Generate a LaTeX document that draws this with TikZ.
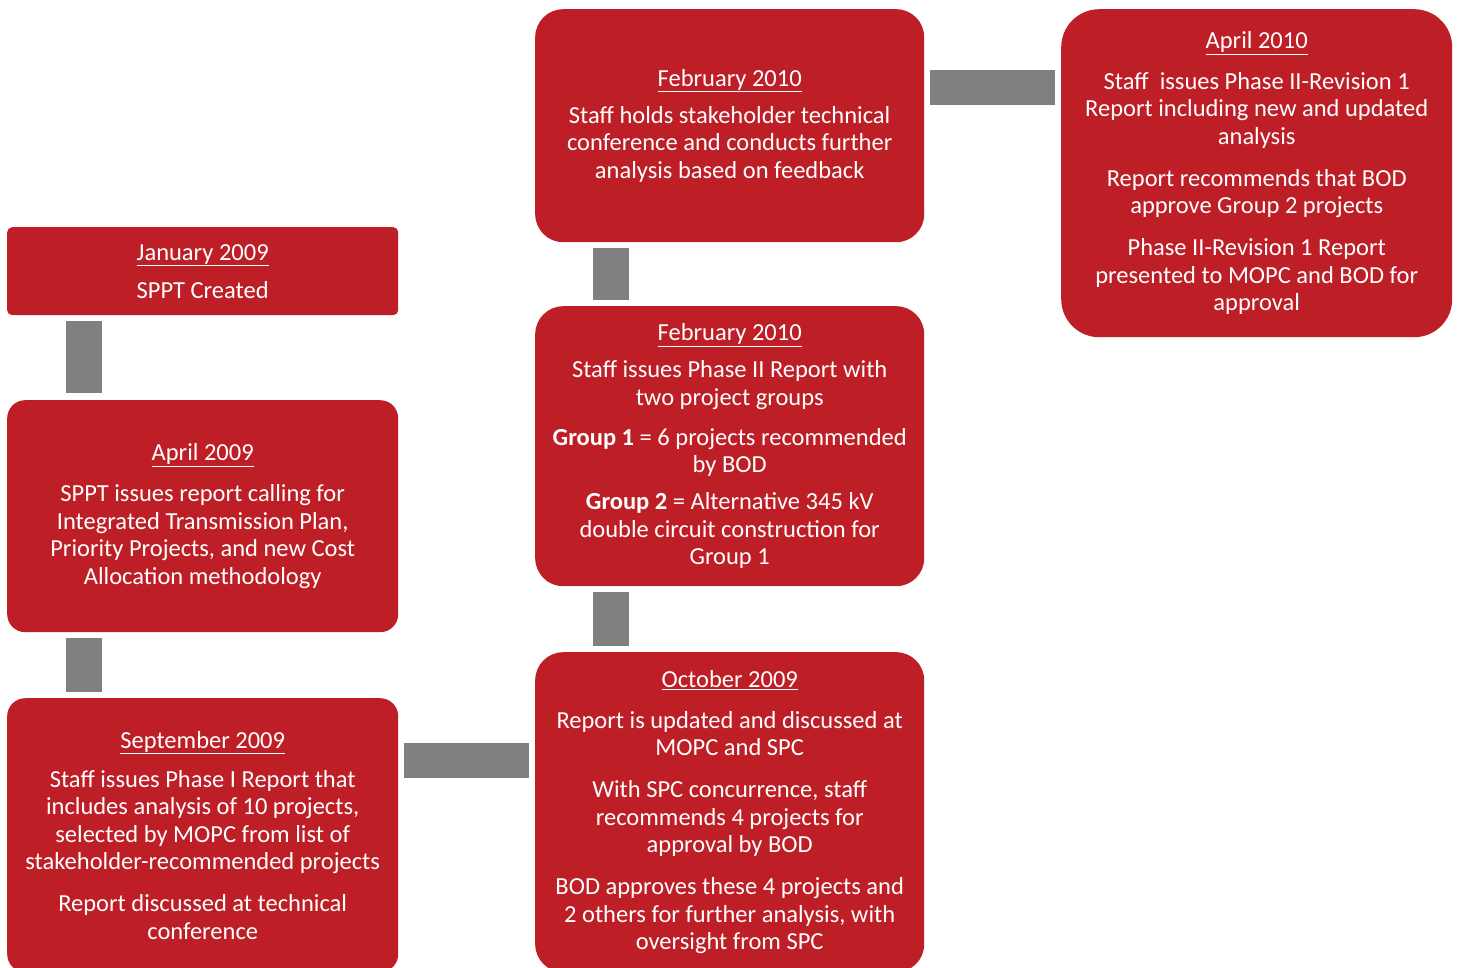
\documentclass[tikz,border=0pt]{standalone}
\usepackage{fontspec}
\setmainfont{Carlito}
\definecolor{boxred}{RGB}{190,30,38}
\definecolor{bargray}{RGB}{128,128,128}
\begin{document}
\begin{tikzpicture}[x=1pt,y=-1pt,
  evt/.style={fill=boxred, text=white, align=center, anchor=north west, inner sep=0pt,
              font=\fontsize{24.5}{27.5}\selectfont},
  bar/.style={draw=bargray, line width=36pt}]
\useasboundingbox (0,0) rectangle (1458,968);
\clip (0,0) rectangle (1458,968);

\node[evt, rounded corners=5pt, minimum width=391pt, minimum height=88pt] (jan) at (7,227)
  {\underline{January 2009}\\[10.5pt] SPPT Created};

\node[evt, rounded corners=18pt, minimum width=391pt, minimum height=232pt] (apr09) at (7,400)
  {\underline{April 2009}\\[13.5pt] SPPT issues report calling for\\ Integrated Transmission Plan,\\ Priority Projects, and new Cost\\ Allocation methodology};

\node[evt, rounded corners=18pt, minimum width=391pt, minimum height=274pt] (sep09) at (7,698)
  {\underline{September 2009}\\[11.5pt] Staff issues Phase I Report that\\ includes analysis of 10 projects,\\ selected by MOPC from list of\\ stakeholder-recommended projects\\[14.5pt] Report discussed at technical\\ conference};

\node[evt, rounded corners=28pt, minimum width=389pt, minimum height=233pt] (febtop) at (535,9)
  {\underline{February 2010}\\[9.5pt] Staff holds stakeholder technical\\ conference and conducts further\\ analysis based on feedback};

\node[evt, rounded corners=28pt, minimum width=389pt, minimum height=280pt] (febmid) at (535,306)
  {\underline{February 2010}\\[9.5pt] Staff issues Phase II Report with\\ two project groups\\[12.5pt] \textbf{Group 1} = 6 projects recommended\\ by BOD\\[9.5pt] \textbf{Group 2} = Alternative 345 kV\\ double circuit construction for\\ Group 1};

\node[evt, rounded corners=28pt, minimum width=389pt, minimum height=320pt] (oct09) at (535,652)
  {\underline{October 2009}\\[13.5pt] Report is updated and discussed at\\ MOPC and SPC\\[14.5pt] With SPC concurrence, staff\\ recommends 4 projects for\\ approval by BOD\\[14.5pt] BOD approves these 4 projects and\\ 2 others for further analysis, with\\ oversight from SPC};

\node[evt, rounded corners=38pt, minimum width=391pt, minimum height=328pt] (apr10) at (1061,9)
  {\underline{April 2010}\\[13.5pt] Staff\ \ issues Phase II-Revision 1\\ Report including new and updated\\ analysis\\[14.5pt] Report recommends that BOD\\ approve Group 2 projects\\[14.5pt] Phase II-Revision 1 Report\\ presented to MOPC and BOD for\\ approval};

\draw[bar] ([xshift=77pt,yshift=-6pt]jan.south west) -- ([xshift=77pt,yshift=7pt]apr09.north west);
\draw[bar] ([xshift=77pt,yshift=-6pt]apr09.south west) -- ([xshift=77pt,yshift=6pt]sep09.north west);
\draw[bar, line width=35pt] ([xshift=6pt,yshift=-62.5pt]sep09.north east) -- ([xshift=-6pt,yshift=-108.5pt]oct09.north west);
\draw[bar] ([xshift=76pt,yshift=6pt]oct09.north west) -- ([xshift=76pt,yshift=-6pt]febmid.south west);
\draw[bar] ([xshift=76pt,yshift=6pt]febmid.north west) -- ([xshift=76pt,yshift=-6pt]febtop.south west);
\draw[bar, line width=35pt] ([xshift=6pt,yshift=-78.5pt]febtop.north east) -- ([xshift=-6pt,yshift=-78.5pt]apr10.north west);
\end{tikzpicture}
\end{document}
